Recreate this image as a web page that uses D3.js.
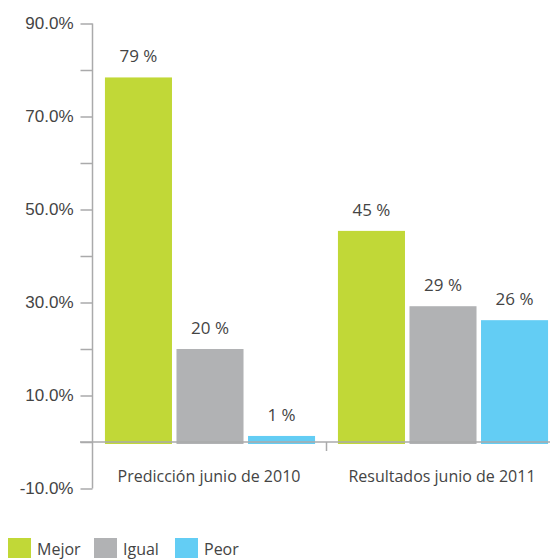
<!DOCTYPE html>
<html>
<head>
<meta charset="utf-8">
<script src="https://cdnjs.cloudflare.com/ajax/libs/d3/7.8.5/d3.min.js"></script>
<style>
  body { margin: 0; background: #fff; }
  svg { font-family: "Open Sans", "Noto Sans", sans-serif; }
  text { fill: #444; }
</style>
</head>
<body>
<svg width="550" height="559"></svg>
<script>
let categories = ["Predicción junio de 2010", "Resultados junio de 2011"];
let series = ["Mejor", "Igual", "Peor"];
let colors = ["#c1d837", "#b1b2b4", "#63cdf4"];
// values per category, in series order
let prediccion = [78.4, 20.0, 1.3];
let resultados = [45.4, 29.2, 26.2];
let valueLabels = [["79 %", "20 %", "1 %"], ["45 %", "29 %", "26 %"]];
let tickValues = [-10, 0, 10, 20, 30, 40, 50, 60, 70, 80, 90];
let labelTicks = [-10, 10, 30, 50, 70, 90];

let svg = d3.select("svg");
let axisColor = "#aaaaab";

let y = d3.scaleLinear().domain([-10, 90]).range([488.5, 23.5]);
let x0 = d3.scaleBand().domain(categories).range([93.5, 559.5]);
let x1 = d3.scaleBand().domain(series).range([0, x0.bandwidth()])
    .paddingInner(0.063).paddingOuter(0.16);
let color = d3.scaleOrdinal().domain(series).range(colors);

let rows = [prediccion, resultados].map(function(vals, i) {
  return vals.map(function(v, j) {
    return {cat: categories[i], s: series[j], v: v, label: valueLabels[i][j]};
  });
});

// bars
let groups = svg.selectAll("g.group")
  .data(rows)
  .enter().append("g")
  .attr("class", "group")
  .attr("transform", function(d, i) { return "translate(" + x0(categories[i]) + ",0)"; });

groups.selectAll("rect")
  .data(function(d) { return d; })
  .enter().append("rect")
  .attr("x", function(d) { return x1(d.s); })
  .attr("width", x1.bandwidth())
  .attr("y", function(d) { return y(d.v); })
  .attr("height", function(d) { return y(0) + 2 - y(d.v); })
  .attr("fill", function(d) { return color(d.s); });

groups.selectAll("text")
  .data(function(d) { return d; })
  .enter().append("text")
  .attr("x", function(d) { return x1(d.s) + x1.bandwidth() / 2; })
  .attr("y", function(d) { return y(d.v) - 15; })
  .attr("text-anchor", "middle")
  .style("font-size", "17px")
  .text(function(d) { return d.label; });

// y axis
let yAxis = d3.axisLeft(y)
  .tickValues(tickValues)
  .tickSize(12)
  .tickFormat(function(d) { return labelTicks.indexOf(d) >= 0 ? d.toFixed(1) + "%" : ""; });

let ya = svg.append("g")
  .attr("transform", "translate(92.5,0)")
  .call(yAxis);
ya.select(".domain").remove();
ya.selectAll(".tick line").attr("stroke", axisColor).attr("stroke-width", 1.5);
ya.selectAll(".tick text").attr("x", -19).style("font-size", "17px").attr("fill", "#444");
ya.append("line")
  .attr("x1", 0).attr("x2", 0)
  .attr("y1", y(90)).attr("y2", y(-10))
  .attr("stroke", axisColor).attr("stroke-width", 1.5);

// zero line with category separators
svg.append("line")
  .attr("x1", 80).attr("x2", 550)
  .attr("y1", y(0)).attr("y2", y(0))
  .attr("stroke", axisColor).attr("stroke-width", 1.5);

svg.selectAll("line.sep")
  .data(categories.slice(1))
  .enter().append("line")
  .attr("class", "sep")
  .attr("x1", function(d) { return x0(d); })
  .attr("x2", function(d) { return x0(d); })
  .attr("y1", y(0)).attr("y2", y(0) + 9)
  .attr("stroke", axisColor).attr("stroke-width", 1.5);

// category labels
svg.selectAll("text.cat")
  .data(categories)
  .enter().append("text")
  .attr("class", "cat")
  .attr("x", function(d) { return x0(d) + x0.bandwidth() / 2 - 1; })
  .attr("y", 482)
  .attr("text-anchor", "middle")
  .style("font-size", "16px")
  .text(function(d) { return d; });

// legend
let legendX = [8, 94, 175];
let legend = svg.selectAll("g.legend")
  .data(series)
  .enter().append("g")
  .attr("class", "legend")
  .attr("transform", function(d, i) { return "translate(" + legendX[i] + ",538)"; });

legend.append("rect")
  .attr("width", 23).attr("height", 20)
  .attr("fill", function(d) { return color(d); });

legend.append("text")
  .attr("x", 29).attr("y", 17)
  .style("font-size", "16px")
  .text(function(d) { return d; });
</script>
</body>
</html>
